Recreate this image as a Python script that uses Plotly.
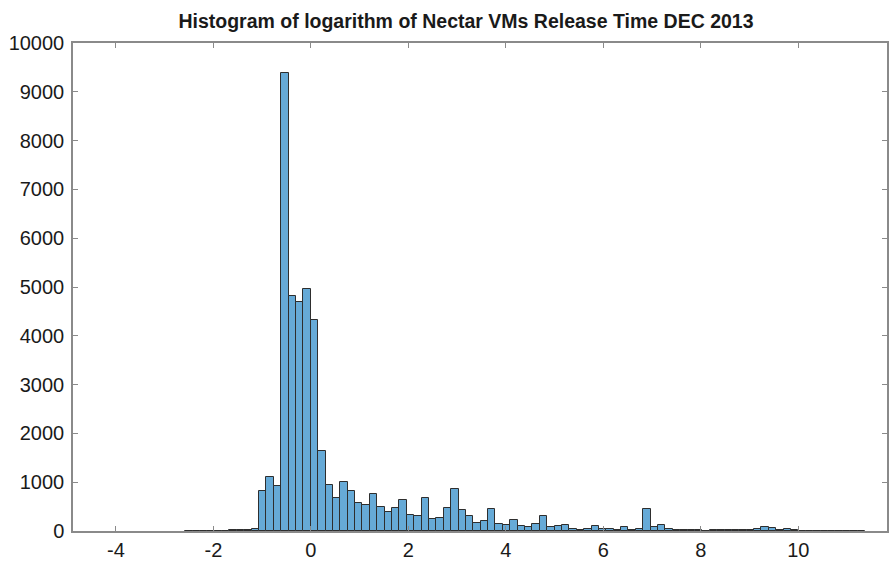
import plotly.graph_objects as go

# Histogram data
bin_start = -2.58          # left edge of first bin (log release time)
bin_width = 0.1516         # bin width
counts = [
    1, 2, 2, 4, 5, 10, 12, 15, 18, 50,               # bins -2.58 .. -1.06
    817, 1103, 912, 9390, 4820, 4690, 4963, 4330,    # around 0
    1634, 946, 667, 1000, 824, 565, 524, 762, 490, 395,
    476, 636, 327, 306, 676, 250, 268, 476, 855, 432,
    300, 157, 197, 452, 140, 130, 228, 98, 72, 143,
    300, 82, 98, 122, 38, 27, 45, 98, 34, 34,
    27, 82, 27, 48, 456, 82, 129, 48, 27, 14,
    14, 14, 7, 20, 20, 27, 27, 20, 14, 34,
    88, 54, 14, 41, 14, 7, 7, 5, 3, 3,
    2, 2, 1, 1,
]
x_ticks = [-4, -2, 0, 2, 4, 6, 8, 10]
y_ticks = [0, 1000, 2000, 3000, 4000, 5000, 6000, 7000, 8000, 9000, 10000]
title_text = "Histogram of logarithm of Nectar VMs Release Time DEC 2013"

edges = [bin_start + bin_width * i for i in range(len(counts))]

fig = go.Figure()
fig.add_trace(go.Bar(
    x=edges,
    y=counts,
    width=bin_width,
    offset=0,
    marker=dict(color="#66aad7", line=dict(color="#2e2e2e", width=1)),
    hoverinfo="x+y",
))

font_family = "Liberation Sans, Arial, Helvetica, sans-serif"
axis_color = "#8a8a8a"

fig.update_layout(
    width=892,
    height=564,
    margin=dict(l=73, r=3, t=43, b=32),
    paper_bgcolor="white",
    plot_bgcolor="white",
    showlegend=False,
    bargap=0,
    font=dict(family=font_family, size=20, color="#1a1a1a"),
    title=dict(
        text="<b>" + title_text + "</b>",
        x=466 / 892, xanchor="center", xref="container",
        y=1 - 21 / 564, yanchor="middle", yref="container",
        font=dict(size=19.5, color="#1a1a1a", family=font_family),
    ),
    xaxis=dict(
        range=[-4.88, 11.82],
        tickvals=x_ticks,
        ticktext=[str(v) for v in x_ticks],
        ticks="inside", ticklen=5, tickwidth=1, tickcolor=axis_color,
        showline=True, linecolor=axis_color, linewidth=1.5, mirror="ticks",
        showgrid=False, zeroline=False,
        tickfont=dict(size=20, color="#1a1a1a"),
    ),
    yaxis=dict(
        range=[0, 10000],
        tickvals=y_ticks,
        ticktext=[str(v) for v in y_ticks],
        ticks="inside", ticklen=5, tickwidth=1, tickcolor=axis_color,
        showline=True, linecolor=axis_color, linewidth=1.5, mirror="ticks",
        showgrid=False, zeroline=False,
        ticklabelstandoff=3,
        tickfont=dict(size=20, color="#1a1a1a"),
    ),
)

fig.write_html("out.html")
